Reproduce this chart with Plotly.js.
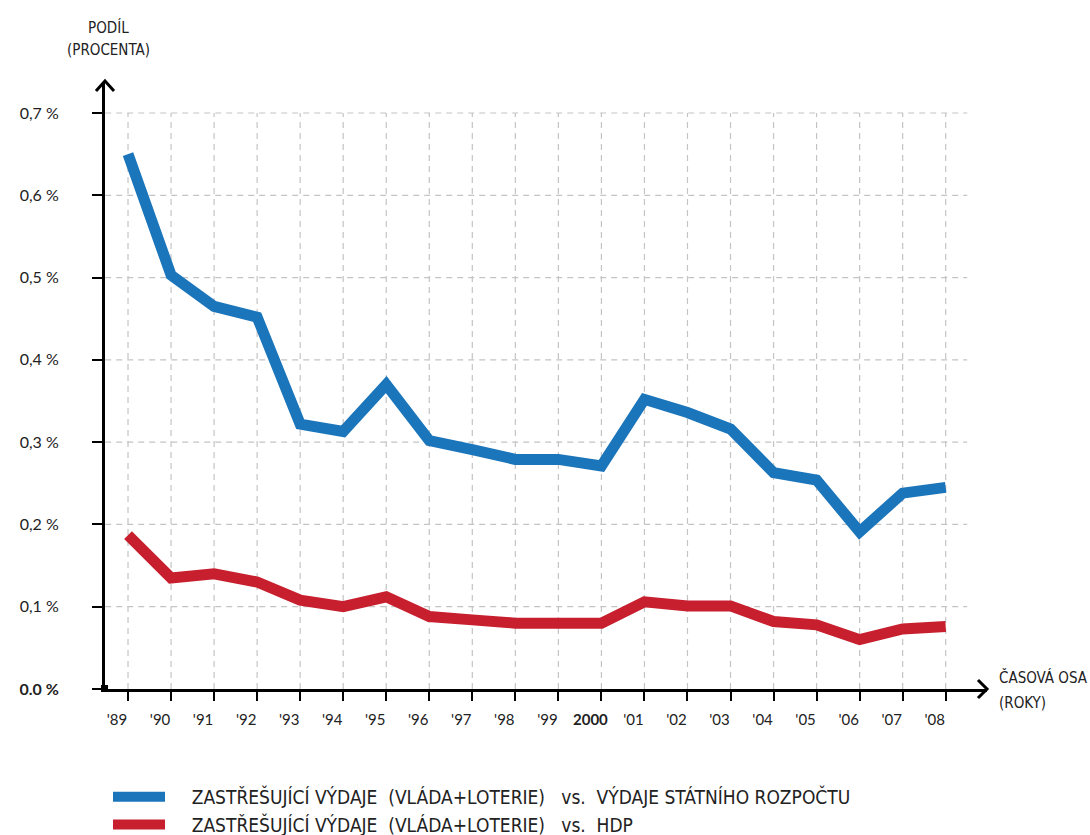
<!DOCTYPE html>
<html>
<head>
<meta charset="utf-8">
<script src="https://cdn.plot.ly/plotly-3.0.1.min.js"></script>
<style>html,body{margin:0;padding:0;background:#fff;}#chart{width:1090px;height:835px;}</style>
</head>
<body>
<div id="chart"></div>
<script>
// ---- data ----
var years = ["'89","'90","'91","'92","'93","'94","'95","'96","'97","'98","'99","2000","'01","'02","'03","'04","'05","'06","'07","'08"];
var budgetShare = [0.650,0.503,0.465,0.452,0.322,0.313,0.370,0.302,0.291,0.279,0.279,0.271,0.352,0.336,0.316,0.263,0.254,0.191,0.238,0.245];
var gdpShare    = [0.187,0.135,0.140,0.130,0.108,0.100,0.112,0.088,0.084,0.080,0.080,0.080,0.106,0.101,0.101,0.082,0.078,0.060,0.073,0.076];
var yTickVals   = [0,0.1,0.2,0.3,0.4,0.5,0.6,0.7];
var yTickText   = ["<b>0.0 %</b>","0,1 %","0,2 %","0,3 %","0,4 %","0,5 %","0,6 %","0,7 %"];
var seriesNames = ["ZASTŘEŠUJÍCÍ VÝDAJE &nbsp;(VLÁDA+LOTERIE) &nbsp;&nbsp;vs. &nbsp;VÝDAJE STÁTNÍHO ROZPOČTU",
                   "ZASTŘEŠUJÍCÍ VÝDAJE &nbsp;(VLÁDA+LOTERIE) &nbsp;&nbsp;vs. &nbsp;HDP"];

var idx = years.map(function(_, i){ return i; });
var tickText = years.map(function(y){ return y === "2000" ? "<b>2000</b>" : y; });

var W = 1090, H = 835, L = 105, R = 103, T = 82, B = 146;
var PW = W - L - R, PH = H - T - B;
function px(x){ return (x - L) / PW; }
function py(y){ return (H - B - y) / PH; }

var condensed = "'Liberation Sans Narrow', 'DejaVu Sans Condensed', 'Roboto Condensed', sans-serif";
var tickFont = "Lato, 'Open Sans', sans-serif";

var traces = [
  {x: idx, y: budgetShare, mode: 'lines', name: '&nbsp;&nbsp;&nbsp;&nbsp;' + seriesNames[0],
   line: {color: '#1b75bb', width: 11}},
  {x: idx, y: gdpShare, mode: 'lines', name: '&nbsp;&nbsp;&nbsp;&nbsp;' + seriesNames[1],
   line: {color: '#c71f2e', width: 11}}
];

var shapes = [];
// vertical dashed grid (years), up to 0.7
idx.forEach(function(i){
  shapes.push({type:'line', xref:'x', yref:'y', x0:i, x1:i, y0:0, y1:0.7,
    line:{color:'#c4c4c4', width:1.2, dash:'6px,5px'}, layer:'below'});
});
// horizontal dashed grid
yTickVals.slice(1).forEach(function(v){
  shapes.push({type:'line', xref:'x', yref:'y', x0:-0.53, x1:19.5, y0:v, y1:v,
    line:{color:'#c4c4c4', width:1.2, dash:'6px,5px'}, layer:'below'});
});
// arrow heads
shapes.push({type:'path', xref:'paper', yref:'paper',
  path:'M'+px(96)+','+py(91)+' L'+px(105)+','+py(81)+' L'+px(114)+','+py(91),
  line:{color:'#000', width:3}});
shapes.push({type:'path', xref:'paper', yref:'paper',
  path:'M'+px(978)+','+py(680)+' L'+px(987)+','+py(689)+' L'+px(978)+','+py(698),
  line:{color:'#000', width:3}});
// origin dot
shapes.push({type:'rect', xref:'paper', yref:'paper',
  x0:px(101), x1:px(108), y0:py(692), y1:py(685), fillcolor:'#000', line:{width:0}});

var annotations = [
  {text:'PODÍL', xref:'paper', yref:'paper', x:px(108), y:py(27), xanchor:'center', yanchor:'middle', showarrow:false,
   font:{family:condensed, size:15, color:'#222'}},
  {text:'(PROCENTA)', xref:'paper', yref:'paper', x:px(108), y:py(50), xanchor:'center', yanchor:'middle', showarrow:false,
   font:{family:condensed, size:15, color:'#222'}},
  {text:'ČASOVÁ OSA', xref:'paper', yref:'paper', x:px(997), y:py(677), xanchor:'left', yanchor:'middle', showarrow:false,
   font:{family:condensed, size:15, color:'#222'}},
  {text:'(ROKY)', xref:'paper', yref:'paper', x:px(997), y:py(703), xanchor:'left', yanchor:'middle', showarrow:false,
   font:{family:condensed, size:15, color:'#222'}}
];

var layout = {
  width: W, height: H,
  margin: {l: L, r: R, t: T, b: B, pad: 0, autoexpand: false},
  paper_bgcolor: '#fff', plot_bgcolor: '#fff',
  showlegend: true,
  legend: {x: px(108), y: py(778), xanchor: 'left', yanchor: 'top',
    font: {family: condensed, size: 19, color: '#222'}, tracegroupgap: 0, itemwidth: 52, bgcolor:'rgba(0,0,0,0)'},
  xaxis: {range: [-0.535, 19.96], tickvals: idx, ticktext: tickText,
    showgrid: false, zeroline: false, showline: true, linecolor: '#000', linewidth: 3,
    ticks: 'outside', ticklen: 9, tickwidth: 2, tickcolor: '#000',
    ticklabelshift: -11, ticklabelstandoff: 6,
    tickfont: {family: tickFont, size: 15, color: '#222'}, fixedrange: true},
  yaxis: {range: [0, 0.7377], tickvals: yTickVals, ticktext: yTickText,
    showgrid: false, zeroline: false, showline: true, linecolor: '#000', linewidth: 3,
    ticks: 'outside', ticklen: 10, tickwidth: 2, tickcolor: '#000',
    ticklabelstandoff: 30,
    tickfont: {family: tickFont, size: 16, color: '#222'}, fixedrange: true},
  shapes: shapes,
  annotations: annotations
};

Plotly.newPlot('chart', traces, layout, {displayModeBar: false, staticPlot: true});
</script>
</body>
</html>
